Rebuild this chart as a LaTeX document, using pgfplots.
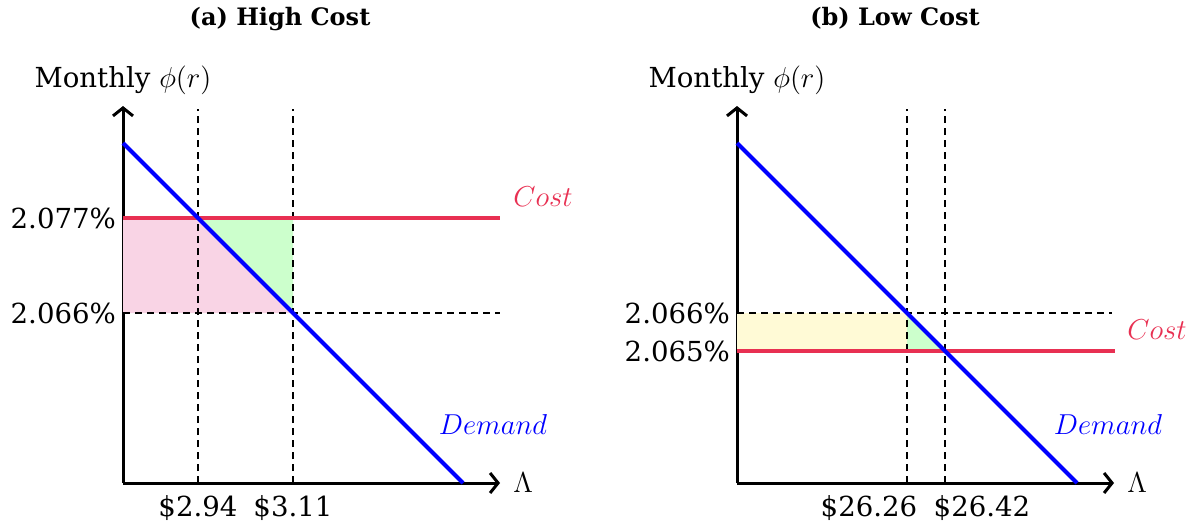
\documentclass[border=0pt]{standalone}
\usepackage[no-math]{fontspec}
\setmainfont{DejaVu Serif}
\usepackage{pgfplots}
\pgfplotsset{compat=1.18}
\usetikzlibrary{arrows.meta}
\definecolor{costred}{RGB}{232,48,82}
\definecolor{pinkfill}{RGB}{249,212,229}
\definecolor{greenfill}{RGB}{204,255,204}
\definecolor{yellowfill}{RGB}{255,250,214}
\newcommand{\lbl}{\fontsize{13.8}{16}\selectfont}
\pgfplotsset{
  demand/.style={blue,line width=2pt},
  cost/.style={costred,line width=2pt},
  guide/.style={black,line width=0.9pt,dash pattern=on 3.3pt off 2.7pt},
  schem/.style={
    x=0.5pt,y=0.5pt,
    xmin=0,xmax=377,ymin=0,ymax=377,
    axis lines=left,
    axis line style={line width=1.5pt,-{Straight Barb[length=4pt,width=10pt]}},
    major tick length=0pt,
    tick label style={font=\lbl},
    xticklabel style={yshift=-2.5pt},
    clip=false,
    anchor=south west,
    every axis x label/.style={at={(rel axis cs:1,0)},anchor=west,xshift=6.5pt,inner sep=0pt,font=\lbl},
    every axis y label/.style={at={(rel axis cs:0,1)},anchor=base,yshift=9.5pt,font=\lbl},
    xlabel={$\Lambda$}, ylabel={Monthly $\phi(r)$},
  }
}
\begin{document}
\begin{tikzpicture}
\useasboundingbox (0,0) rectangle (601pt,263.5pt);
\node[font=\fontsize{12}{14}\bfseries\selectfont,anchor=base] at (140pt,251pt) {(a) High Cost};
\node[font=\fontsize{12}{14}\bfseries\selectfont,anchor=base] at (447.5pt,251pt) {(b) Low Cost};
\begin{axis}[schem, at={(61.5pt,22pt)},
  xtick={75,170}, xticklabels={\$2.94,\$3.11},
  ytick={170,265}, yticklabels={2.066\%,2.077\%}]
\addplot[draw=none,fill=pinkfill] coordinates {(0,170) (0,265) (75,265) (170,170)} -- cycle;
\addplot[draw=none,fill=greenfill] coordinates {(75,265) (170,265) (170,170)} -- cycle;
\addplot[guide] coordinates {(75,0) (75,374)};
\addplot[guide] coordinates {(170,0) (170,374)};
\addplot[guide] coordinates {(0,170) (377,170)};
\addplot[cost] coordinates {(0,265) (377,265)};
\addplot[demand] coordinates {(0,340) (340,0)};
\node[text=costred,font=\lbl] at (axis cs:420,286) {$Cost$};
\node[text=blue,font=\lbl] at (axis cs:370,59) {$Demand$};
\end{axis}
\begin{axis}[schem, at={(368.5pt,22pt)},
  xtick={170}, xticklabels={\$26.26},
  xticklabel style={xshift=-19pt},
  extra x ticks={208}, extra x tick labels={\$26.42},
  extra x tick style={xticklabel style={xshift=37.5pt}, major tick length=0pt},
  ytick={132,170}, yticklabels={2.065\%,2.066\%}]
\addplot[draw=none,fill=yellowfill] coordinates {(0,132) (0,170) (170,170) (170,132)} -- cycle;
\addplot[draw=none,fill=greenfill] coordinates {(170,170) (208,132) (170,132)} -- cycle;
\addplot[guide] coordinates {(170,0) (170,374)};
\addplot[guide] coordinates {(208,0) (208,374)};
\addplot[guide] coordinates {(0,170) (375,170)};
\addplot[cost] coordinates {(0,132) (378,132)};
\addplot[demand] coordinates {(0,340) (340,0)};
\node[text=costred,font=\lbl] at (axis cs:420,153) {$Cost$};
\node[text=blue,font=\lbl] at (axis cs:371,59) {$Demand$};
\end{axis}
\end{tikzpicture}
\end{document}
